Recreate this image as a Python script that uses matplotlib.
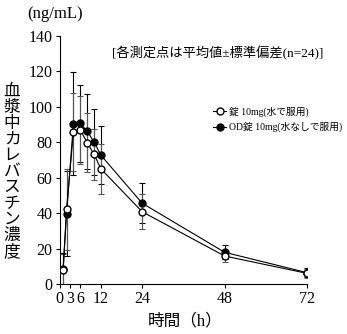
import matplotlib
matplotlib.use("Agg")
import matplotlib.pyplot as plt

plt.rcParams['font.family'] = ['Liberation Serif', 'Noto Sans CJK JP']

# Data
times = [1, 2, 4, 6, 8, 10, 12, 24, 48, 72]
tab_mean = [8, 42.2, 86, 87, 79.8, 73.2, 65, 40.8, 15.8, 6]
tab_sd = [9, 23, 22, 19, 16.6, 14.5, 14, 10, 3.5, 2.5]
od_mean = [8.5, 39.7, 90.5, 90.7, 86.2, 80.2, 72.7, 45.6, 17.9, 6.4]
od_sd = [9, 24, 29, 21.6, 21.3, 18.5, 16.5, 11.3, 4, 2.5]
xticks = [0, 3, 6, 12, 24, 48, 72]
yticks = [0, 20, 40, 60, 80, 100, 120, 140]
label_tab = '錠 10mg(水で服用)'
label_od = 'OD錠 10mg(水なしで服用)'

fig = plt.figure(figsize=(3.47, 3.34), dpi=100)
ax = fig.add_axes([0.172, 0.1497, 0.713, 0.7425])

ax.errorbar(times, od_mean, yerr=od_sd, fmt='none', ecolor='black',
            elinewidth=0.8, capsize=2, capthick=0.8, zorder=2)
ax.errorbar(times, tab_mean, yerr=tab_sd, fmt='none', ecolor='#555555',
            elinewidth=0.8, capsize=2, capthick=0.8, zorder=2)
ax.plot(times, od_mean, '-o', color='black', mfc='black', mec='black',
        ms=5, lw=0.8, label=label_od, zorder=3)
ax.plot(times, tab_mean, '-o', color='black', mfc='white', mec='black',
        ms=5, lw=0.8, label=label_tab, zorder=4)

ax.set_xlim(0, 72)
ax.set_ylim(0, 140)
ax.set_xticks(xticks)
ax.set_yticks(yticks)
ax.spines['top'].set_visible(False)
ax.spines['right'].set_visible(False)
ax.tick_params(direction='out', length=3, width=0.8, labelsize=11.5, pad=2)
for s in ['left', 'bottom']:
    ax.spines[s].set_linewidth(0.8)

handles, labels = ax.get_legend_handles_labels()
ax.legend(handles[::-1], labels[::-1], loc='upper left',
          bbox_to_anchor=(208 / 347, 1 - 102 / 334), bbox_transform=fig.transFigure,
          frameon=False, fontsize=7, handlelength=1.4, handletextpad=0.25,
          borderpad=0, labelspacing=0.5)

fig.text(27 / 347, 1 - 14 / 334, '(ng/mL)', fontsize=12, ha='left', va='center')
fig.text(218 / 347, 1 - 53 / 334, '[各測定点は平均値±標準偏差(n=24)]', fontsize=9.5,
         ha='center', va='center')
fig.text(12 / 347, 1 - 172 / 334, '\n'.join('血漿中カレバスチン濃度'), fontsize=12,
         ha='center', va='center', linespacing=1.0)
fig.text(185 / 347, 1 - 321 / 334, '時間（h）', fontsize=12, ha='center', va='center')

fig.savefig('out.png', dpi=100)
